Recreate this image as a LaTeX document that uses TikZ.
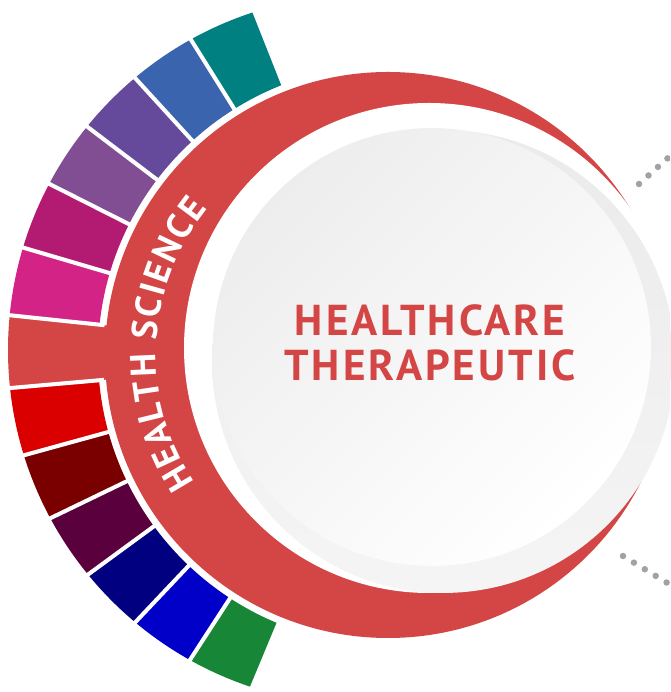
\documentclass[tikz,border=0pt]{standalone}
\usepackage{fontspec}
\setmainfont{PT Sans}
\newfontfamily\titlefont{PT Sans}[LetterSpace=7]
\newfontfamily\arcfont{PT Sans}
\usetikzlibrary{decorations.text}
\definecolor{ring}{HTML}{D44545}
\definecolor{dotgray}{HTML}{A0A2A6}
\definecolor{segA}{HTML}{008080}
\definecolor{segB}{HTML}{3A64AD}
\definecolor{segC}{HTML}{654A9C}
\definecolor{segD}{HTML}{814E94}
\definecolor{segE}{HTML}{B31B72}
\definecolor{segF}{HTML}{D42387}
\definecolor{segG}{HTML}{DB0000}
\definecolor{segH}{HTML}{7A0000}
\definecolor{segI}{HTML}{5A003C}
\definecolor{segJ}{HTML}{000080}
\definecolor{segK}{HTML}{0000C8}
\definecolor{segL}{HTML}{178636}
\tikzset{
  gap/.style={white, line width=2.3pt},
  dotline/.style={draw=dotgray, line width=3.7pt, line cap=round, dash pattern=on 0pt off 7.26pt},
}

\begin{document}
\begin{tikzpicture}[x=0.02cm, y=0.02cm]
\useasboundingbox (0,0) rectangle (670,692);
\clip (0,0) rectangle (670,692);

\coordinate (rim) at (388,337);
\fill[ring] (rim) circle[radius=283];
\begin{scope}
\clip (363,342) circle[radius=355];
\fill[ring] (rim) -- +(174:600) -- +(185:600) -- cycle;
\end{scope}
\foreach \a/\c in {111.6/segA, 122/segB, 132.4/segC, 142.8/segD, 153.2/segE, 163.6/segF,
  185/segG, 195.4/segH, 205.8/segI, 216.2/segJ, 226.6/segK, 237/segL} {
  \pgfmathsetmacro\b{\a+10.4}
  \begin{scope}
  \clip (rim) -- +(\a:600) -- +(\b:600) -- cycle;
  \fill[\c, even odd rule] (363,342) circle[radius=355] (rim) circle[radius=290];
  \end{scope}
}
\foreach \a in {122,132.4,142.8,153.2,163.6,174,185,195.4,205.8,216.2,226.6,237}
  \draw[gap] (rim) ++(\a:285) -- ++(\a:120);

\fill[white] (429,344) circle[radius=245];
\node[circle, inner sep=0, minimum size=9.26cm, top color=black!8, bottom color=black!4] (hub) at (443.5,330.5) {};
\node[circle, inner sep=0, minimum size=8.76cm, top color=black!7, bottom color=white, shading angle=45] (core) at (432,345) {};
\node[font=\titlefont\bfseries\fontsize{24.6}{25.6}\selectfont, text=ring, align=center] (title) at (430,349.5) {HEALTHCARE\\THERAPEUTIC};

\path (rim) ++(213.4:232) coordinate (arcstart);
\path[decorate, decoration={text along path, text color=white, text align=fit to path,
  text={|\arcfont\bfseries\fontsize{20.5}{22}\selectfont|HEALTH SCIENCE}}]
  (arcstart) arc[start angle=213.4, end angle=141, radius=232];

\coordinate (linkA) at (639,508);
\coordinate (farA) at (720,581);
\coordinate (linkB) at (623,136);
\coordinate (farB) at (720,77);
\draw[dotline] (linkA) -- (farA);
\draw[dotline] (linkB) -- (farB);
\end{tikzpicture}
\end{document}
